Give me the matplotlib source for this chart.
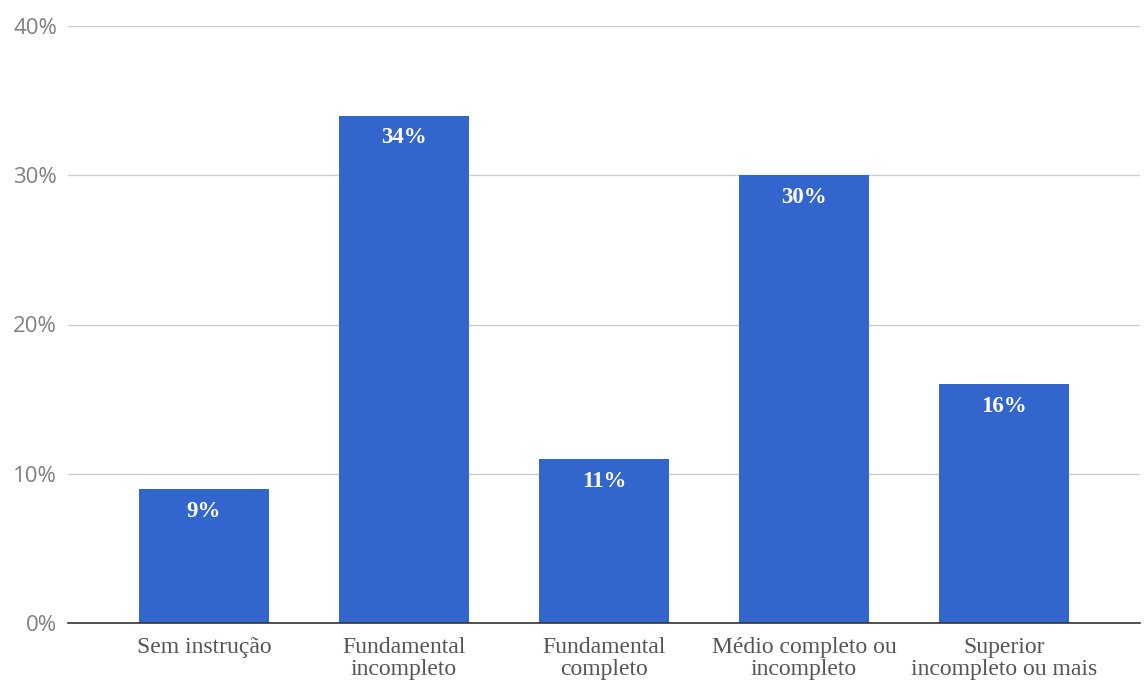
import matplotlib
matplotlib.use('Agg')
import matplotlib.pyplot as plt

# dados do gráfico
categorias = ['Sem instrução', 'Fundamental\nincompleto', 'Fundamental\ncompleto',
              'Médio completo ou\nincompleto', 'Superior\nincompleto ou mais']
valores = [9, 34, 11, 30, 16]
ticks_y = [0, 10, 20, 30, 40]

cor_barra = '#3366CC'

fig = plt.figure(figsize=(11.47, 6.82), dpi=100)
ax = fig.add_axes([68 / 1147, 59 / 682, 1072 / 1147, 597 / 682])

x = range(len(categorias))
barras = ax.bar(x, valores, width=0.65, color=cor_barra, zorder=3)

# rótulos dentro das barras
for xi, v in zip(x, valores):
    ax.text(xi, v - 1.5, f'{v}%', ha='center', va='center', color='white',
            fontsize=16.5, fontweight='bold', family='Liberation Serif', zorder=4)

ax.set_xlim(-0.68, 4.68)
ax.set_ylim(0, 40)
ax.set_yticks(ticks_y)
ax.set_yticklabels([f'{t}%' for t in ticks_y], color='#808080', fontsize=16,
                   family='Open Sans')
ax.set_xticks(list(x))
ax.set_xticklabels(categorias, color='#555555', fontsize=17,
                   family='Liberation Serif', linespacing=1.05)

ax.grid(axis='y', color='#cccccc', linewidth=1, zorder=0)
for s in ['top', 'right', 'left']:
    ax.spines[s].set_visible(False)
ax.spines['bottom'].set_color('#333333')
ax.spines['bottom'].set_linewidth(1.2)
ax.spines['bottom'].set_zorder(5)
ax.tick_params(axis='both', length=0)
ax.tick_params(axis='x', pad=10)
ax.tick_params(axis='y', pad=8)

fig.savefig('out.png', dpi=100)
